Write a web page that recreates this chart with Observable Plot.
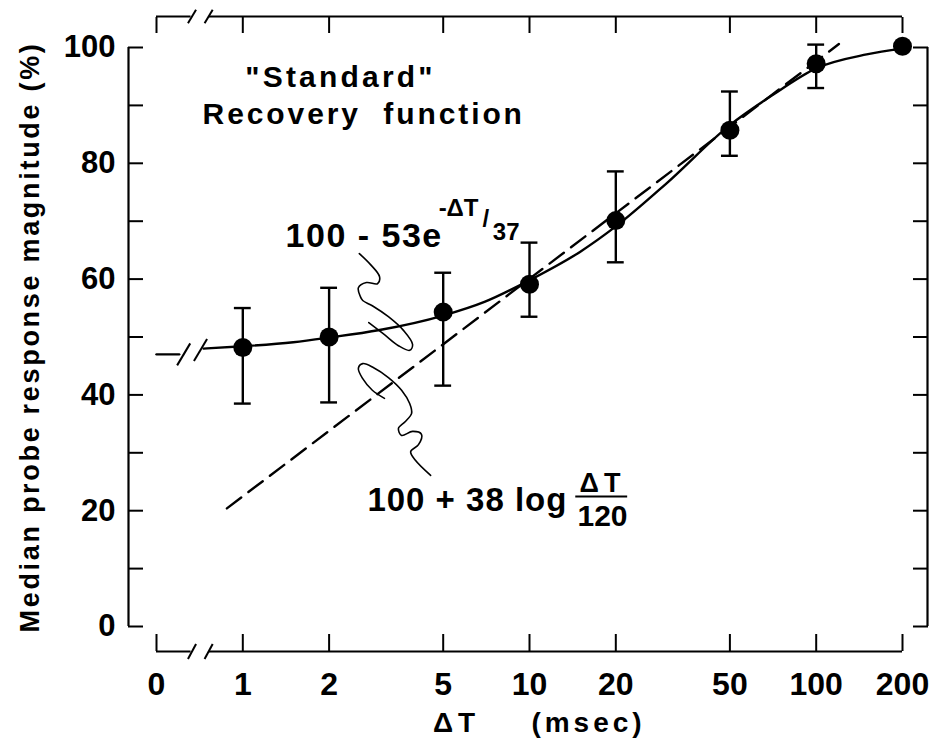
<!DOCTYPE html>
<html>
<head>
<meta charset="utf-8">
<script src="https://cdn.jsdelivr.net/npm/d3@7"></script>
<script src="https://cdn.jsdelivr.net/npm/@observablehq/plot@0.6"></script>
<style>
html, body { margin: 0; padding: 0; background: #fff; }
#chart svg { display: block; }
#chart text { white-space: pre; }
</style>
</head>
<body>
<div id="chart"></div>
<script>
// ---- data ----
const xTicks = [0.5, 1, 2, 5, 10, 20, 50, 100, 200];      // 0.5 stands in for the broken "0"
const xTickLabels = ["0", "1", "2", "5", "10", "20", "50", "100", "200"];
const yTicks = [0, 10, 20, 30, 40, 50, 60, 70, 80, 90, 100];

const dt = [1, 2, 5, 10, 20, 50, 100, 200];
const median = [48.2, 50.0, 54.3, 59.1, 70.1, 85.7, 97.2, 100.2];
const lower = [38.5, 38.7, 41.6, 53.5, 62.9, 81.3, 93.0, null];
const upper = [55.0, 58.5, 61.1, 66.3, 78.6, 92.4, 100.5, null];

// solid fitted curve 100-53e^(-ΔT/37)
const curveDt = [0.73, 1, 1.5, 2, 3, 5, 7, 10, 15, 20, 30, 50, 70, 100, 150, 200];
const curveVal = [48.0, 48.4, 49.1, 49.9, 51.2, 53.7, 56.1, 59.8, 64.7, 69.1, 76.5, 86.6, 91.7, 96.4, 98.8, 99.8];
// short flat piece at ΔT = 0 (left of the break)
const zeroDt = [0.5, 0.6];
const zeroVal = [47, 47];
const curveBreakDt = [0.622, 0.712];
const curveBreakVal = [47.0, 47.75];

// dashed line 100 + 38 log(ΔT/120)
const dashDt = [0.88, 120];
const dashVal = [20.4, 100.6];

// axis line pieces around the break
const axisSegments = [[0.5, 0.66], [0.765, 200]];
const axisBreakDt = [0.665, 0.76];

// leader squiggles (annotation), in data units
const squigADt = [2.55, 2.79, 3.0, 2.95, 2.70, 2.53, 2.57, 2.62, 2.83, 3.22, 3.64, 3.91, 3.82, 3.49, 3.12, 2.75];
const squigAVal = [64.4, 62.5, 60.4, 59.2, 59.4, 58.5, 57.0, 56.3, 55.4, 53.5, 51.1, 48.7, 47.7, 48.5, 50.4, 52.5];
const squigBDt = [3.12, 2.83, 2.62, 2.53, 2.62, 2.86, 3.22, 3.58, 3.82, 3.88, 3.69, 3.49, 3.58, 3.91, 4.20, 4.10, 3.85, 4.00, 4.52];
const squigBVal = [39.4, 40.8, 42.8, 44.6, 45.4, 44.7, 43.0, 40.8, 38.5, 36.8, 35.4, 34.2, 33.0, 33.7, 33.2, 31.4, 30.2, 28.7, 26.1];

// annotation texts
const titleLines = ['"Standard"', 'Recovery  function'];
const titleDt = [1.02, 0.724];
const titleVal = [94.8, 88.4];
const expMain = ["100 - 53e"];
const expMainAt = [1.41, 67.4];
const expSup = ["-ΔT", "/", "37"];
const expSupDt = [4.82, 6.85, 7.45];
const expSupVal = [72.2, 70.3, 68.0];
const logMain = ["100 + 38 log"];
const logMainAt = [2.72, 21.8];
const fracTop = ["ΔT"];
const fracBottom = ["120"];
const fracDt = 17.97;
const fracTopVal = 24.7;
const fracBottomVal = 19.0;
const fracBar = [14.5, 22.0, 22.45];

const yLabel = "Median probe response magnitude (%)";
const xLabelParts = ["ΔT", "(msec)"];

// ---- build ----
const fontFamily = "'Liberation Sans', Arial, Helvetica, sans-serif";
const points = dt.map((d, i) => ({dt: d, median: median[i], lower: lower[i], upper: upper[i]}));
const bars = points.filter(p => p.lower != null);
const curve = curveDt.map((d, i) => ({dt: d, v: curveVal[i]}));
const zero = zeroDt.map((d, i) => ({dt: d, v: zeroVal[i]}));
const dash = dashDt.map((d, i) => ({dt: d, v: dashVal[i]}));
const squigA = squigADt.map((d, i) => ({dt: d, v: squigAVal[i]}));
const squigB = squigBDt.map((d, i) => ({dt: d, v: squigBVal[i]}));
const curveBreaks = curveBreakDt.map((d, i) => ({dt: d, v: curveBreakVal[i]}));
const tickLabel = new Map(xTicks.map((t, i) => [t, xTickLabels[i]]));
const capF = 1.07;
const sw = 2.4;

const chart = Plot.plot({
  width: 941,
  height: 738,
  marginLeft: 156,
  marginRight: 39,
  marginTop: 47,
  marginBottom: 112,
  style: {fontFamily, background: "white", color: "black", overflow: "visible"},
  x: {type: "log", domain: [0.5, 200]},
  y: {domain: [0, 100]},
  marks: [
    // open frame with broken x axes
    Plot.ruleX([0.5], {y1: () => 0, y2: () => 100, dx: -28, strokeWidth: 2.2}),
    Plot.ruleX([200], {y1: () => 0, y2: () => 100, dx: 25, strokeWidth: 2.2}),
    Plot.ruleY(axisSegments, {y: () => 100, x1: d => d[0], x2: d => d[1], dy: -31, strokeWidth: 2.2}),
    Plot.ruleY(axisSegments, {y: () => 0, x1: d => d[0], x2: d => d[1], dy: 25, strokeWidth: 2.2}),
    Plot.link(axisBreakDt, {x1: d => d / 1.033, x2: d => d * 1.033, y1: () => 100 - 1.15, y2: () => 100 + 1.15, dy: -31, strokeWidth: 2}),
    Plot.link(axisBreakDt, {x1: d => d / 1.033, x2: d => d * 1.033, y1: () => 0 - 1.3, y2: () => 0 + 1.3, dy: 25, strokeWidth: 2}),

    Plot.axisY(yTicks, {anchor: "left", tickSize: -15, tickPadding: 28, dx: -28, strokeWidth: 2,
      tickFormat: d => d % 20 === 0 ? String(d) : "", fontSize: 31, fontWeight: "bold", label: null}),
    Plot.axisY(yTicks, {anchor: "right", tickSize: -15, dx: 25, strokeWidth: 2, tickFormat: () => "", label: null}),
    Plot.axisX(xTicks, {anchor: "top", tickSize: -16, dy: -31, strokeWidth: 2, tickFormat: () => "", label: null}),
    Plot.axisX(xTicks, {anchor: "bottom", tickSize: -17, dy: 25, strokeWidth: 2, tickFormat: () => "", label: null}),
    Plot.text(xTicks, {x: d => d, frameAnchor: "bottom", text: d => tickLabel.get(d), dy: 46, lineAnchor: "top",
      textAnchor: "middle", fontSize: 32, fontWeight: "bold"}),

    // curves
    Plot.line(zero, {x: "dt", y: "v", strokeWidth: sw}),
    Plot.link(curveBreaks, {x1: d => d.dt / 1.054, x2: d => d.dt * 1.054, y1: d => d.v - 1.9, y2: d => d.v + 1.9, strokeWidth: 2}),
    Plot.line(curve, {x: "dt", y: "v", curve: "monotone-x", strokeWidth: sw}),
    Plot.line(dash, {x: "dt", y: "v", strokeWidth: sw, strokeDasharray: "18,9"}),

    // leader squiggles
    Plot.line(squigA, {x: "dt", y: "v", curve: "catmull-rom", strokeWidth: 1.6}),
    Plot.line(squigB, {x: "dt", y: "v", curve: "catmull-rom", strokeWidth: 1.6}),

    // error bars and points
    Plot.ruleX(bars, {x: "dt", y1: "lower", y2: "upper", strokeWidth: sw}),
    Plot.ruleY(bars, {y: "upper", x1: d => d.dt / capF, x2: d => d.dt * capF, strokeWidth: sw}),
    Plot.ruleY(bars, {y: "lower", x1: d => d.dt / capF, x2: d => d.dt * capF, strokeWidth: sw}),
    Plot.dot(points, {x: "dt", y: "median", r: 9.5, fill: "black"}),

    // annotations
    Plot.text(titleLines, {x: (d, i) => titleDt[i], y: (d, i) => titleVal[i], text: d => d, textAnchor: "start",
      fontSize: 30, fontWeight: "bold"}),
    Plot.text(expMain, {x: () => expMainAt[0], y: () => expMainAt[1], text: d => d, textAnchor: "start",
      fontSize: 34, fontWeight: "bold"}),
    Plot.text(expSup, {x: (d, i) => expSupDt[i], y: (d, i) => expSupVal[i], text: d => d, textAnchor: "start",
      fontSize: 24, fontWeight: "bold"}),
    Plot.text(logMain, {x: () => logMainAt[0], y: () => logMainAt[1], text: d => d, textAnchor: "start",
      fontSize: 33, fontWeight: "bold"}),
    Plot.text(fracTop, {x: () => fracDt, y: () => fracTopVal, text: d => d, fontSize: 27, fontWeight: "bold"}),
    Plot.text(fracBottom, {x: () => fracDt, y: () => fracBottomVal, text: d => d, fontSize: 30, fontWeight: "bold"}),
    Plot.ruleY([fracBar], {y: d => d[2], x1: d => d[0], x2: d => d[1], strokeWidth: 2.2}),

    // axis titles
    Plot.text([yLabel], {frameAnchor: "left", text: d => d, rotate: -90, dx: -126, textAnchor: "middle", lineAnchor: "middle",
      fontSize: 27, fontWeight: "bold"}),
    Plot.text([xLabelParts[0]], {frameAnchor: "bottom", text: d => d, dx: -73, dy: 97, textAnchor: "middle", lineAnchor: "middle",
      fontSize: 28, fontWeight: "bold"}),
    Plot.text([xLabelParts[1]], {frameAnchor: "bottom", text: d => d, dx: 59, dy: 97, textAnchor: "middle", lineAnchor: "middle",
      fontSize: 28, fontWeight: "bold"})
  ]
});

// letter spacing for the wide-set lettering of the original
const spacing = new Map([
  [titleLines[0], 3.2], [titleLines[1], 2.9], [yLabel, 2.7], ["ΔT", 5], ["(msec)", 4],
  [expMain[0], 1.5], [logMain[0], 1]
]);
chart.querySelectorAll("text").forEach(t => {
  const s = spacing.get(t.textContent);
  if (s != null) t.style.letterSpacing = s + "px";
});

document.getElementById("chart").appendChild(chart);
</script>
</body>
</html>
